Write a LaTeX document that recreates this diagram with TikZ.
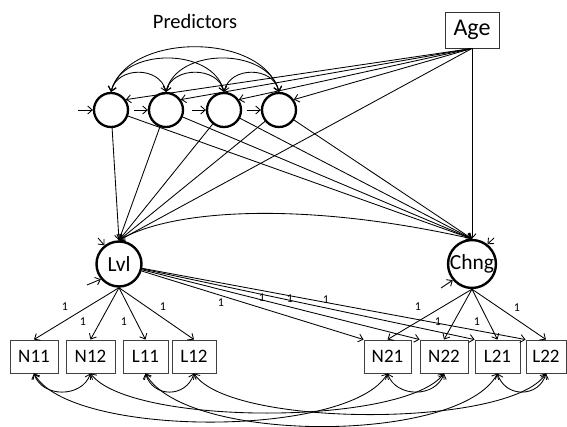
\documentclass[tikz,border=0pt]{standalone}
\usepackage{fontspec}
\setmainfont{Carlito}
\usetikzlibrary{arrows.meta}
\begin{document}
\begin{tikzpicture}[x=1pt,y=-1pt,
  lat/.style={circle,draw,line width=2.3pt,minimum size=34pt,inner sep=0pt},
  bigl/.style={circle,draw,line width=2.4pt,minimum size=45pt,inner sep=0pt,font=\fontsize{21.5}{24}\selectfont},
  obs/.style={rectangle,draw=black!75,line width=0.9pt,minimum height=33pt,inner sep=0pt,font=\fontsize{19}{22}\selectfont},
  arr/.style={line width=0.85pt,-{Straight Barb[length=4.5pt,width=8pt]}},
  cov/.style={line width=0.85pt,{Straight Barb[length=4.5pt,width=8pt]}-{Straight Barb[length=4.5pt,width=8pt]}},
  one/.style={font=\fontsize{12}{14}\selectfont,inner sep=0pt}
]
\useasboundingbox (0,0) rectangle (567,427);

% titles and observed predictor
\node[font=\fontsize{20.5}{24}\selectfont] (pred) at (195,21) {Predictors};
\node[draw=black!80,line width=0.9pt,minimum width=54pt,minimum height=36pt,inner sep=0pt,
      font=\fontsize{24}{28}\selectfont] (age) at (472,30) {Age};

% predictor latents
\node[lat] (p1) at (111,110) {};
\node[lat] (p2) at (166,110) {};
\node[lat] (p3) at (224,110) {};
\node[lat] (p4) at (279,110) {};

% growth factors
\node[bigl] (lvl) at (119,264) {Lvl};
\node[bigl] (chng) at (472,264) {Chng};

% indicators
\node[obs,minimum width=48pt] (n11) at (34,356.5) {N11};
\node[obs,minimum width=49pt] (n12) at (90.5,356.5) {N12};
\node[obs,minimum width=45pt] (l11) at (145.5,356.5) {L11};
\node[obs,minimum width=44pt] (l12) at (194,356.5) {L12};
\node[obs,minimum width=47pt] (n21) at (387.5,356.5) {N21};
\node[obs,minimum width=48pt] (n22) at (444,356.5) {N22};
\node[obs,minimum width=45pt] (l21) at (497.5,356.5) {L21};
\node[obs,minimum width=40pt] (l22) at (546,356.5) {L22};

% residual arrows of predictors
\coordinate (r1) at (78,110);
\coordinate (r2) at (134,110);
\coordinate (r3) at (192,110);
\coordinate (r4) at (247,110);
\draw[arr] (r1) -- (p1);
\draw[arr] (r2) -- (p2);
\draw[arr] (r3) -- (p3);
\draw[arr] (r4) -- (p4);

% residuals of growth factors
\coordinate (rl1) at (87,285);
\coordinate (rl2) at (98,238);
\coordinate (rc1) at (441,288);
\coordinate (rc2) at (494,238);
\draw[arr] (rl1) -- (lvl.220);
\draw[arr] (rl2) -- (lvl.128);
\draw[arr] (rc1) -- (chng.220);
\draw[arr] (rc2) -- (chng.52);

% covariances among predictors
\draw[cov] (p1.north) .. controls (128,32) and (262,32) .. (p4.north);
\draw[cov] (p1.north) .. controls (122,47) and (213,47) .. (p3.north);
\draw[cov] (p2.north) .. controls (177,47) and (268,47) .. (p4.north);
\draw[cov] (p1.north) .. controls (117,66) and (160,66) .. (p2.north);
\draw[cov] (p2.north) .. controls (172,66) and (218,66) .. (p3.north);
\draw[cov] (p3.north) .. controls (230,66) and (273,66) .. (p4.north);

% Age to predictors
\draw[arr] (age.south) -- (p1.35);
\draw[arr] (age.south) -- (p2.35);
\draw[arr] (age.south) -- (p3.35);
\draw[arr] (age.south) -- (p4.35);

% predictors to growth factors
\draw[arr] (p1) -- (lvl.north);
\draw[arr] (p2) -- (lvl.north);
\draw[arr] (p3) -- (lvl.north);
\draw[arr] (p4) -- (lvl.north);
\draw[arr] (age.south) -- (lvl.north);
\draw[arr] (p1) -- (chng.north);
\draw[arr] (p2) -- (chng.north);
\draw[arr] (p3) -- (chng.north);
\draw[arr] (p4) -- (chng.north);
\draw[arr] (age.south) -- (chng.north);

% level-change covariance
\draw[cov] (lvl.north) .. controls (170,210) and (300,200) .. (chng.north);

% loadings of level
\draw[arr] (lvl.south) -- (n11.north);
\draw[arr] (lvl.south) -- (n12.north);
\draw[arr] (lvl.south) -- (l11.north);
\draw[arr] (lvl.south) -- (l12.north);
\draw[arr] (lvl) -- (n21.north west);
\draw[arr] (lvl) -- (n22.north west);
\draw[arr] (lvl) -- (l21.north west);
\draw[arr] (lvl) -- (l22.north west);

% loadings of change
\draw[arr] (chng.south) -- (n21.north);
\draw[arr] (chng.south) -- (n22.north);
\draw[arr] (chng.south) -- (l21.north);
\draw[arr] (chng.south) -- (l22.north);

% loading labels
\node[one] (a1) at (65,307) {1};
\node[one] (a2) at (83,322) {1};
\node[one] (a3) at (124,322) {1};
\node[one] (a4) at (163,307) {1};
\node[one] (b1) at (221,303) {1};
\node[one] (b2) at (262,298) {1};
\node[one] (b3) at (290,299) {1};
\node[one] (b4) at (326,300) {1};
\node[one] (c1) at (418,307) {1};
\node[one] (c2) at (438,322) {1};
\node[one] (c3) at (477,322) {1};
\node[one] (c4) at (517,308) {1};

% residual covariances among indicators
\draw[cov] (n11.south) .. controls (42,398) and (82,398) .. (n12.south);
\draw[cov] (l11.south) .. controls (153,398) and (186,398) .. (l12.south);
\draw[cov] (n21.south) .. controls (396,398) and (436,398) .. (n22.south);
\draw[cov] (l21.south) .. controls (505,398) and (539,398) .. (l22.south);
\draw[cov] (n11.south) .. controls (70,438) and (350,438) .. (n21.south);
\draw[cov] (n12.south) .. controls (130,426) and (404,426) .. (n22.south);
\draw[cov] (l11.south) .. controls (185,444) and (460,444) .. (l21.south);
\draw[cov] (l12.south) .. controls (230,428) and (510,428) .. (l22.south);
\end{tikzpicture}
\end{document}
